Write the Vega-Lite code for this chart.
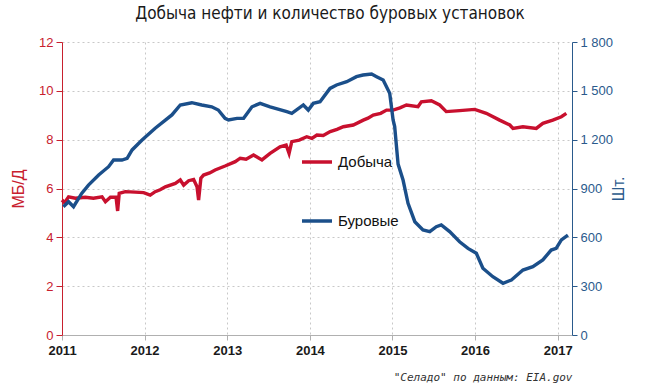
{
  "$schema": "https://vega.github.io/schema/vega-lite/v6.json",
  "autosize": {"type": "none"},
  "width": 510,
  "height": 293,
  "padding": {"left": 62, "top": 42, "right": 78, "bottom": 56},
  "background": "white",
  "title": {
    "text": "Добыча нефти и количество буровых установок",
    "font": "DejaVu Sans Condensed",
    "fontSize": 17,
    "fontWeight": "normal",
    "color": "#1a1a1a",
    "anchor": "middle",
    "dx": 13,
    "offset": 13
  },
  "datasets": {
    "prod": [
      {"date": "2011-01-01", "v": 5.53},
      {"date": "2011-01-12", "v": 5.42},
      {"date": "2011-01-30", "v": 5.66},
      {"date": "2011-03-01", "v": 5.6},
      {"date": "2011-04-14", "v": 5.64},
      {"date": "2011-05-20", "v": 5.6},
      {"date": "2011-06-27", "v": 5.66},
      {"date": "2011-07-12", "v": 5.46},
      {"date": "2011-08-03", "v": 5.64},
      {"date": "2011-08-28", "v": 5.64},
      {"date": "2011-09-04", "v": 5.08},
      {"date": "2011-09-11", "v": 5.8},
      {"date": "2011-10-08", "v": 5.87},
      {"date": "2011-11-20", "v": 5.85},
      {"date": "2011-12-28", "v": 5.83},
      {"date": "2012-01-26", "v": 5.73},
      {"date": "2012-02-17", "v": 5.87},
      {"date": "2012-03-10", "v": 5.95},
      {"date": "2012-04-02", "v": 6.07},
      {"date": "2012-05-16", "v": 6.21},
      {"date": "2012-06-07", "v": 6.35},
      {"date": "2012-06-22", "v": 6.14},
      {"date": "2012-07-14", "v": 6.32},
      {"date": "2012-08-05", "v": 6.37},
      {"date": "2012-08-20", "v": 6.07},
      {"date": "2012-08-27", "v": 5.53},
      {"date": "2012-09-06", "v": 6.42},
      {"date": "2012-09-18", "v": 6.55},
      {"date": "2012-10-15", "v": 6.64},
      {"date": "2012-11-08", "v": 6.76},
      {"date": "2012-12-22", "v": 6.92},
      {"date": "2013-02-05", "v": 7.1},
      {"date": "2013-02-27", "v": 7.24},
      {"date": "2013-03-25", "v": 7.2},
      {"date": "2013-04-27", "v": 7.37},
      {"date": "2013-06-03", "v": 7.17},
      {"date": "2013-07-09", "v": 7.44},
      {"date": "2013-08-22", "v": 7.71},
      {"date": "2013-09-18", "v": 7.78},
      {"date": "2013-10-01", "v": 7.44},
      {"date": "2013-10-13", "v": 7.92},
      {"date": "2013-11-15", "v": 7.98},
      {"date": "2013-12-18", "v": 8.12},
      {"date": "2014-01-10", "v": 8.05},
      {"date": "2014-02-01", "v": 8.19},
      {"date": "2014-03-01", "v": 8.17},
      {"date": "2014-04-01", "v": 8.33},
      {"date": "2014-05-01", "v": 8.42},
      {"date": "2014-05-29", "v": 8.53},
      {"date": "2014-07-12", "v": 8.6},
      {"date": "2014-08-25", "v": 8.8},
      {"date": "2014-09-15", "v": 8.88},
      {"date": "2014-10-08", "v": 9.01},
      {"date": "2014-11-10", "v": 9.08},
      {"date": "2014-12-06", "v": 9.21},
      {"date": "2015-01-04", "v": 9.21},
      {"date": "2015-02-03", "v": 9.3},
      {"date": "2015-03-04", "v": 9.42},
      {"date": "2015-04-24", "v": 9.35},
      {"date": "2015-05-09", "v": 9.55},
      {"date": "2015-06-22", "v": 9.59},
      {"date": "2015-07-29", "v": 9.42},
      {"date": "2015-08-27", "v": 9.15},
      {"date": "2015-10-25", "v": 9.19},
      {"date": "2015-12-31", "v": 9.24},
      {"date": "2016-02-20", "v": 9.08},
      {"date": "2016-04-19", "v": 8.8},
      {"date": "2016-06-03", "v": 8.6},
      {"date": "2016-06-17", "v": 8.46},
      {"date": "2016-07-31", "v": 8.53},
      {"date": "2016-09-28", "v": 8.46},
      {"date": "2016-10-27", "v": 8.67},
      {"date": "2016-12-10", "v": 8.8},
      {"date": "2017-01-17", "v": 8.94},
      {"date": "2017-02-08", "v": 9.08}
    ],
    "rigs": [
      {"date": "2011-01-07", "v": 788},
      {"date": "2011-01-30", "v": 819},
      {"date": "2011-02-21", "v": 788},
      {"date": "2011-03-29", "v": 870},
      {"date": "2011-04-28", "v": 921},
      {"date": "2011-06-12", "v": 983},
      {"date": "2011-07-26", "v": 1034},
      {"date": "2011-08-17", "v": 1075},
      {"date": "2011-09-23", "v": 1075},
      {"date": "2011-10-16", "v": 1085},
      {"date": "2011-11-07", "v": 1137},
      {"date": "2011-12-21", "v": 1198},
      {"date": "2012-02-17", "v": 1270},
      {"date": "2012-05-01", "v": 1352},
      {"date": "2012-06-07", "v": 1413},
      {"date": "2012-07-28", "v": 1427},
      {"date": "2012-09-10", "v": 1413},
      {"date": "2012-10-24", "v": 1402},
      {"date": "2012-11-22", "v": 1382},
      {"date": "2012-12-22", "v": 1331},
      {"date": "2013-01-06", "v": 1321},
      {"date": "2013-02-13", "v": 1331},
      {"date": "2013-03-14", "v": 1331},
      {"date": "2013-04-20", "v": 1402},
      {"date": "2013-05-26", "v": 1423},
      {"date": "2013-07-09", "v": 1402},
      {"date": "2013-09-21", "v": 1372},
      {"date": "2013-10-13", "v": 1362},
      {"date": "2013-12-03", "v": 1413},
      {"date": "2013-12-25", "v": 1382},
      {"date": "2014-01-16", "v": 1423},
      {"date": "2014-02-15", "v": 1433},
      {"date": "2014-03-31", "v": 1515},
      {"date": "2014-04-29", "v": 1536},
      {"date": "2014-06-13", "v": 1556},
      {"date": "2014-07-26", "v": 1587},
      {"date": "2014-08-24", "v": 1597},
      {"date": "2014-10-01", "v": 1603},
      {"date": "2014-10-23", "v": 1587},
      {"date": "2014-11-21", "v": 1566},
      {"date": "2014-12-20", "v": 1485},
      {"date": "2015-01-04", "v": 1321},
      {"date": "2015-01-11", "v": 1280},
      {"date": "2015-01-26", "v": 1050},
      {"date": "2015-02-17", "v": 952},
      {"date": "2015-03-11", "v": 809},
      {"date": "2015-04-10", "v": 696},
      {"date": "2015-05-16", "v": 645},
      {"date": "2015-06-15", "v": 635},
      {"date": "2015-07-14", "v": 665},
      {"date": "2015-08-05", "v": 676},
      {"date": "2015-09-11", "v": 635},
      {"date": "2015-10-25", "v": 573},
      {"date": "2015-12-01", "v": 532},
      {"date": "2016-01-07", "v": 502},
      {"date": "2016-02-05", "v": 410},
      {"date": "2016-03-20", "v": 358},
      {"date": "2016-05-04", "v": 318},
      {"date": "2016-06-10", "v": 338},
      {"date": "2016-07-31", "v": 399},
      {"date": "2016-09-13", "v": 420},
      {"date": "2016-10-27", "v": 461},
      {"date": "2016-12-03", "v": 522},
      {"date": "2016-12-25", "v": 532},
      {"date": "2017-01-17", "v": 584},
      {"date": "2017-02-15", "v": 614}
    ]
  },
  "config": {
    "view": {"stroke": null},
    "axis": {"labelFont": "Liberation Sans", "titleFont": "Liberation Sans"},
    "legend": {"labelFont": "Liberation Sans"}
  },
  "encoding": {
    "x": {
      "field": "date",
      "type": "temporal",
      "scale": {"domain": ["2011-01-01", "2017-03-05"]},
      "axis": {
        "title": "\"Селадо\" по данным: EIA.gov",
        "titleFont": "DejaVu Sans Mono",
        "titleFontStyle": "italic",
        "titleFontWeight": "normal",
        "titleFontSize": 11,
        "titleColor": "#333333",
        "titleAnchor": "end",
        "titlePadding": 14,
        "tickCount": {"interval": "year", "step": 1},
        "format": "%Y",
        "labelFlush": false,
        "labelFontWeight": "bold",
        "labelFontSize": 13,
        "labelColor": "#1a1a1a",
        "labelPadding": 4,
        "domainColor": "#b0b0b0",
        "tickColor": "#b0b0b0",
        "tickSize": 5,
        "grid": true,
        "gridDash": [2, 3],
        "gridColor": "#c8c8c8"
      }
    }
  },
  "layer": [
    {
      "data": {"name": "prod"},
      "mark": {"type": "line", "strokeWidth": 3.4, "interpolate": "linear"},
      "encoding": {
        "y": {
          "field": "v",
          "type": "quantitative",
          "scale": {"domain": [0, 12]},
          "axis": {
            "title": "МБ/Д",
            "titleColor": "#c8202e",
            "titleFontSize": 16,
            "titleFontWeight": "normal",
            "titlePadding": 12,
            "values": [0, 2, 4, 6, 8, 10, 12],
            "labelColor": "#c8202e",
            "labelFontSize": 13,
            "domainColor": "#c8202e",
            "tickColor": "#c8202e",
            "tickSize": 6,
            "labelPadding": 3,
            "grid": true,
            "gridDash": [2, 3],
            "gridColor": "#c8c8c8"
          }
        },
        "color": {
          "datum": "Добыча",
          "scale": {"domain": ["Добыча", "Буровые"], "range": ["#c8102e", "#1b4f8a"]},
          "legend": {
            "title": null,
            "orient": "none",
            "legendX": 238,
            "legendY": 103,
            "symbolType": "stroke",
            "symbolSize": 900,
            "symbolStrokeWidth": 3.5,
            "labelFontSize": 15,
            "labelColor": "#111111",
            "labelOffset": 4,
            "rowPadding": 34
          }
        }
      }
    },
    {
      "data": {"name": "rigs"},
      "mark": {"type": "line", "strokeWidth": 3.4, "interpolate": "linear"},
      "encoding": {
        "y": {
          "field": "v",
          "type": "quantitative",
          "scale": {"domain": [0, 1800]},
          "axis": {
            "orient": "right",
            "title": "Шт.",
            "titleAngle": 270,
            "titleColor": "#2a5a8c",
            "titleFontSize": 16,
            "titleFontWeight": "normal",
            "titlePadding": 14,
            "values": [0, 300, 600, 900, 1200, 1500, 1800],
            "labelExpr": "replace(format(datum.value, ','), ',', ' ')",
            "labelColor": "#2a5a8c",
            "labelFontSize": 13,
            "domainColor": "#2a5a8c",
            "tickColor": "#2a5a8c",
            "tickSize": 5,
            "labelPadding": 3,
            "grid": false
          }
        },
        "color": {"datum": "Буровые"}
      }
    }
  ],
  "resolve": {"scale": {"y": "independent"}}
}
